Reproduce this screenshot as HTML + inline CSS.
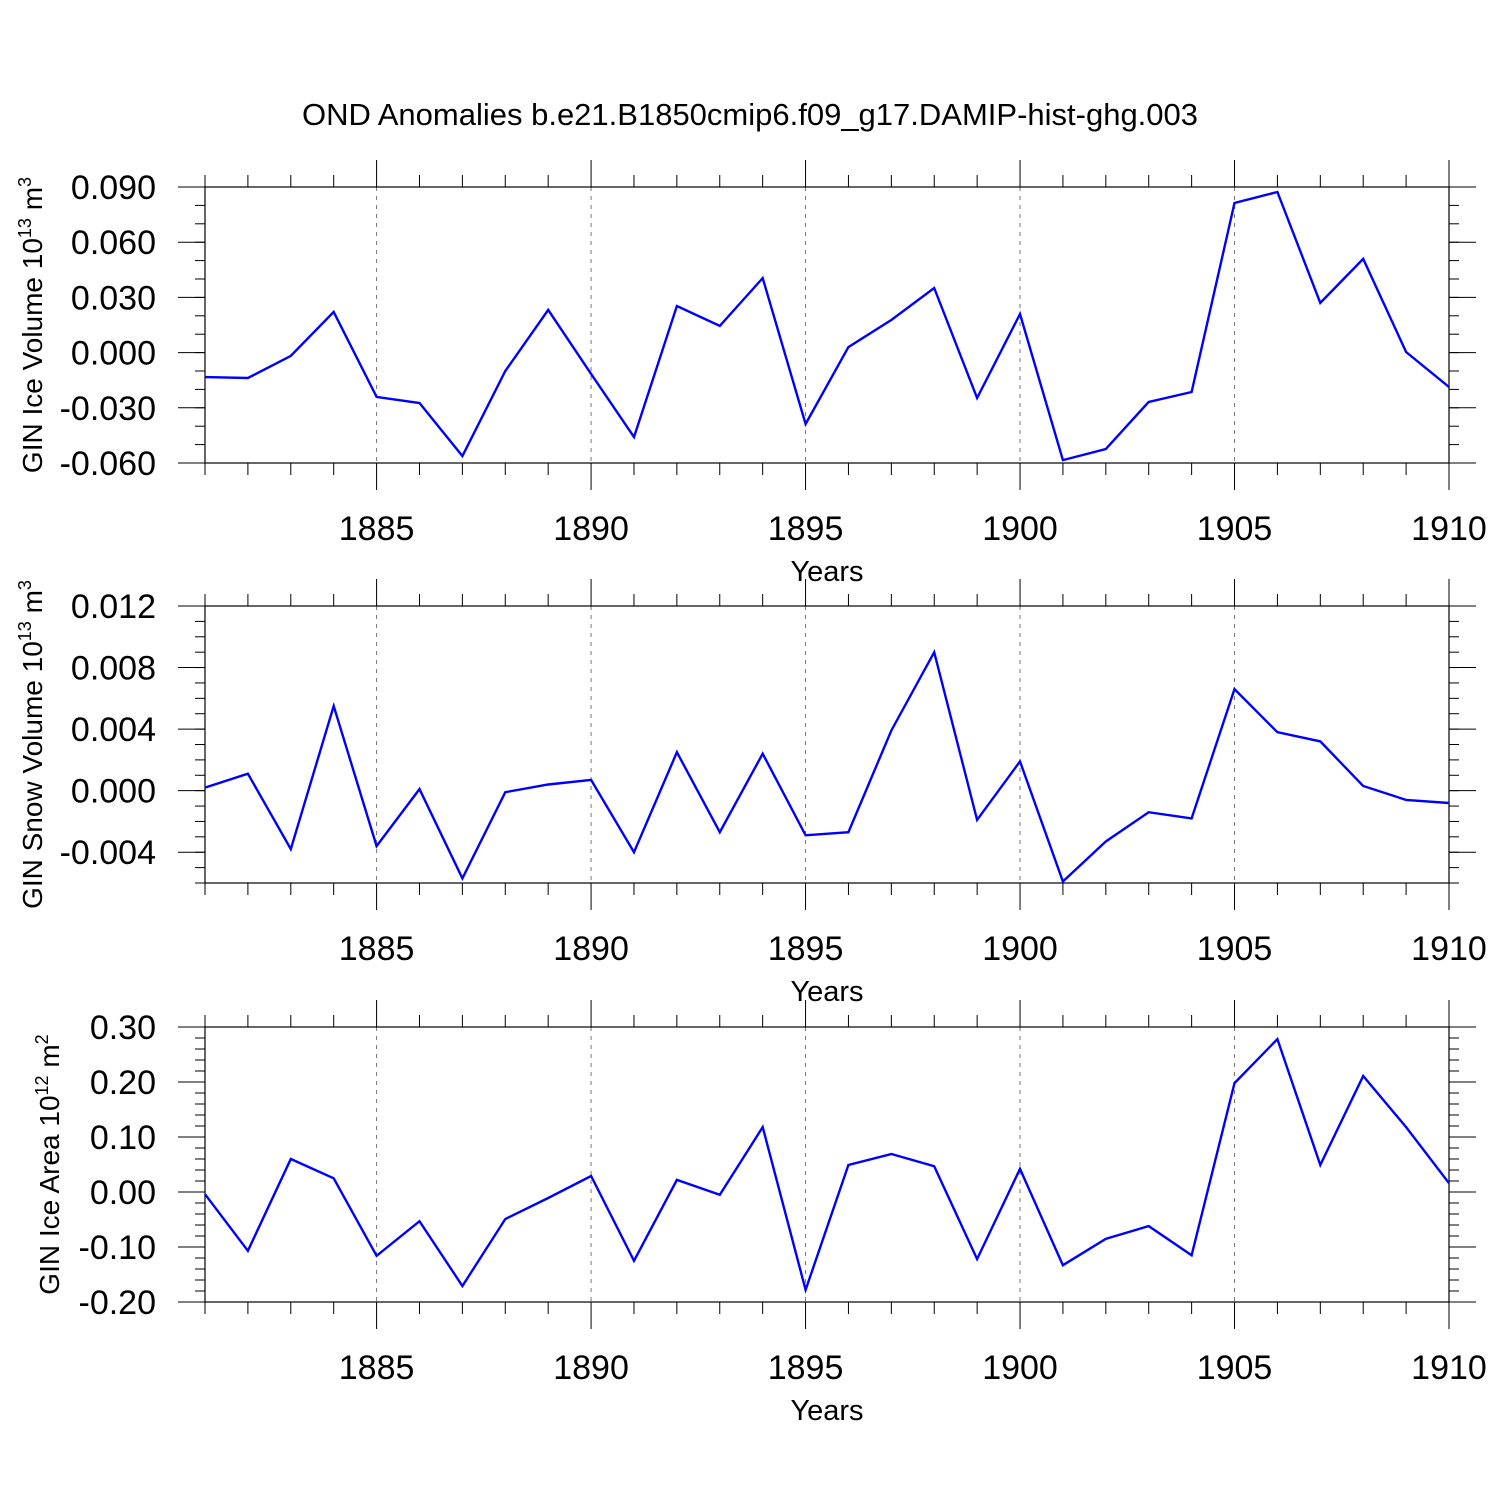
<!DOCTYPE html>
<html><head><meta charset="utf-8"><style>
html,body{margin:0;padding:0;background:#fff;}
svg{display:block;font-family:"Liberation Sans",sans-serif;}
</style></head><body>
<svg id="chart" width="1500" height="1500" viewBox="0 0 1500 1500" xmlns="http://www.w3.org/2000/svg">
<rect width="1500" height="1500" fill="#fff"/>
<text x="750" y="125" text-anchor="middle" font-size="31">OND Anomalies b.e21.B1850cmip6.f09_g17.DAMIP-hist-ghg.003</text>
</svg>
<script>
const years = [1881,1882,1883,1884,1885,1886,1887,1888,1889,1890,1891,1892,1893,1894,1895,1896,1897,1898,1899,1900,1901,1902,1903,1904,1905,1906,1907,1908,1909,1910];
const iceVolume = [-0.0133,-0.0138,-0.0018,0.0221,-0.0241,-0.0274,-0.0562,-0.0100,0.0232,-0.0116,-0.0459,0.0253,0.0145,0.0405,-0.0388,0.0030,0.0177,0.0351,-0.0247,0.0210,-0.0584,-0.0524,-0.0268,-0.0214,0.0813,0.0873,0.0270,0.0509,0.0003,-0.0187];
const snowVolume = [0.0002,0.0011,-0.0038,0.0055,-0.0036,0.0001,-0.0057,-0.0001,0.0004,0.0007,-0.0040,0.0025,-0.0027,0.0024,-0.0029,-0.0027,0.0039,0.0090,-0.0019,0.0019,-0.0059,-0.0033,-0.0014,-0.0018,0.0066,0.0038,0.0032,0.0003,-0.0006,-0.0008];
const iceArea = [-0.004,-0.107,0.060,0.025,-0.116,-0.053,-0.171,-0.049,-0.011,0.029,-0.125,0.022,-0.005,0.118,-0.178,0.049,0.069,0.047,-0.122,0.042,-0.133,-0.085,-0.062,-0.115,0.198,0.278,0.049,0.211,0.118,0.016];
const xTickLabels = ["1885","1890","1895","1900","1905","1910"];
const iceVolTicks = ["-0.060","-0.030","0.000","0.030","0.060","0.090"];
const snowVolTicks = ["-0.004","0.000","0.004","0.008","0.012"];
const iceAreaTicks = ["-0.20","-0.10","0.00","0.10","0.20","0.30"];

const NS="http://www.w3.org/2000/svg";
const svg=document.getElementById('chart');
function mk(tag,attrs,parent){const e=document.createElementNS(NS,tag);for(const k in attrs)e.setAttribute(k,attrs[k]);(parent||svg).appendChild(e);return e;}
const X0=205,X1=1449,yr0=1881,yr1=1910;
const xs=y=>X0+(y-yr0)/(yr1-yr0)*(X1-X0);

const panels=[
 {name:'ice-volume',top:187,bot:463,min:-0.06,max:0.09,ticks:iceVolTicks,minorStep:0.01,data:iceVolume,title:'GIN Ice Volume 10',exp:'13',unit:'m',uexp:'3',tx:42},
 {name:'snow-volume',top:606,bot:883,min:-0.006,max:0.012,ticks:snowVolTicks,minorStep:0.001,data:snowVolume,title:'GIN Snow Volume 10',exp:'13',unit:'m',uexp:'3',tx:42},
 {name:'ice-area',top:1027,bot:1302,min:-0.2,max:0.3,ticks:iceAreaTicks,minorStep:0.02,data:iceArea,title:'GIN Ice Area 10',exp:'12',unit:'m',uexp:'2',tx:59}
];
panels.forEach(p=>{
 const g=mk('g',{});
 
 
 const ys=v=>p.bot-(v-p.min)/(p.max-p.min)*(p.bot-p.top);
 xTickLabels.forEach(t=>{const yv=+t;if(yv<yr1){const l=mk('line',{x1:xs(yv),x2:xs(yv),y1:p.top,y2:p.bot,stroke:'#777','stroke-width':1,'stroke-dasharray':'4,5'},g);
 
 }});
 for(let y=yr0;y<=yr1;y++){const major=y%5===0;const L=major?27:12;const x=xs(y);
  mk('line',{x1:x,x2:x,y1:p.bot,y2:p.bot+L,stroke:'#000','stroke-width':1},g);
  mk('line',{x1:x,x2:x,y1:p.top,y2:p.top-L,stroke:'#000','stroke-width':1},g);}
 xTickLabels.forEach(t=>{const tx=mk('text',{x:xs(+t),y:p.bot+77,'text-anchor':'middle','font-size':34},g);tx.textContent=t;
  
  });
 const xt=mk('text',{x:827,y:p.bot+118,'text-anchor':'middle','font-size':29},g);xt.textContent='Years';
 
 
 const n=Math.round((p.max-p.min)/p.minorStep);
 for(let i=0;i<=n;i++){const y=ys(p.min+i*p.minorStep);
  mk('line',{x1:X0-10,x2:X0,y1:y,y2:y,stroke:'#000','stroke-width':1},g);
  mk('line',{x1:X1,x2:X1+10,y1:y,y2:y,stroke:'#000','stroke-width':1},g);}
 p.ticks.forEach(t=>{const y=ys(+t);
  mk('line',{x1:X0-27,x2:X0,y1:y,y2:y,stroke:'#000','stroke-width':1},g);
  mk('line',{x1:X1,x2:X1+27,y1:y,y2:y,stroke:'#000','stroke-width':1},g);
  const tx=mk('text',{x:156,y:y+12,'text-anchor':'end','font-size':34},g);tx.textContent=t;
  
  });
 const fr=mk('rect',{x:X0,y:p.top,width:X1-X0,height:p.bot-p.top,fill:'none',stroke:'#000','stroke-width':1.2},g);
 
 
 const cy=(p.top+p.bot)/2;
 const yt=mk('text',{transform:`translate(${p.tx},${cy}) rotate(-90)`,'text-anchor':'middle','font-size':28},g);
 
 
 yt.appendChild(document.createTextNode(p.title));
 const s1=mk('tspan',{dy:-11,'font-size':18},yt);s1.textContent=p.exp;
 const s2=mk('tspan',{dy:11},yt);s2.textContent=' '+p.unit;
 const s3=mk('tspan',{dy:-11,'font-size':18},yt);s3.textContent=p.uexp;
 const pts=p.data.map((v,i)=>xs(years[i]).toFixed(1)+','+ys(v).toFixed(1)).join(' ');
 const pl=mk('polyline',{points:pts,fill:'none',stroke:'#0000ff','stroke-width':2.4,'stroke-linejoin':'miter'},g);
 
 
});
</script>
</body></html>
